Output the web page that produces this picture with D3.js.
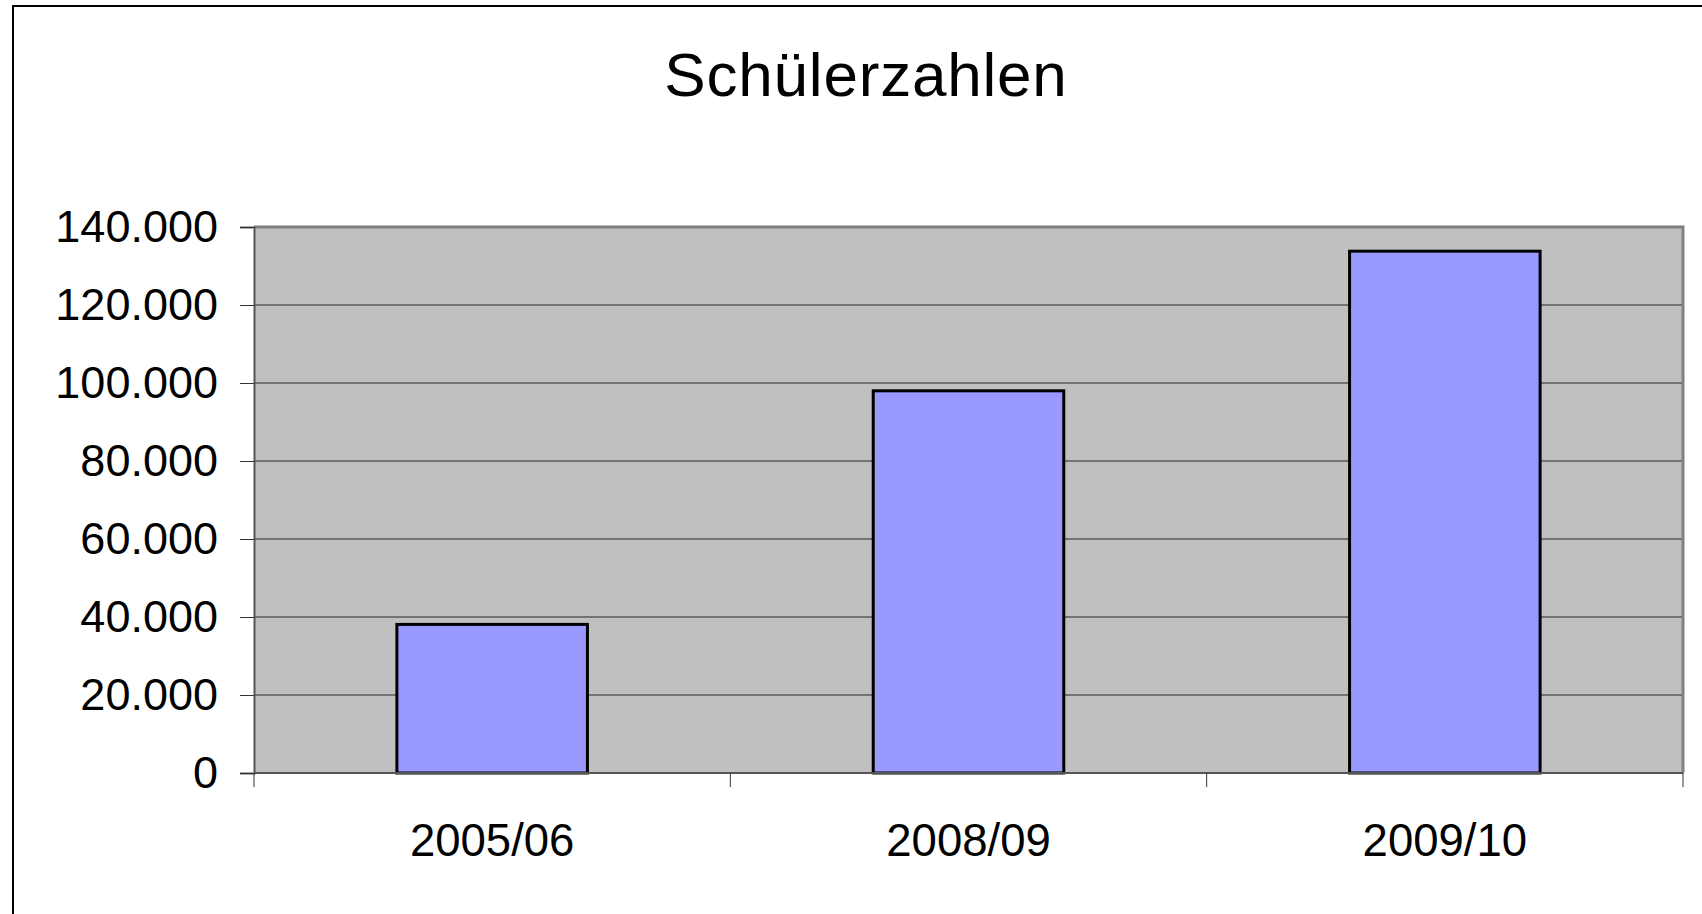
<!DOCTYPE html>
<html>
<head>
<meta charset="utf-8">
<script src="https://cdn.jsdelivr.net/npm/d3@7"></script>
<style>
  html, body { margin: 0; padding: 0; background: #fff; }
  svg { display: block; }
  text { font-family: "Liberation Sans", Arial, sans-serif; fill: #000; }
</style>
</head>
<body>
<svg id="chart" width="1702" height="914"></svg>
<script>
// ---- data ----
const title = "Schülerzahlen";
const categories = ["2005/06", "2008/09", "2009/10"];
const values = [38100, 98000, 133800];
const yTicks = [0, 20000, 40000, 60000, 80000, 100000, 120000, 140000];
const yMax = 140000;

// ---- layout ----
const W = 1702, H = 914;
const plot = { left: 254, top: 227, right: 1683, bottom: 773 };

const svg = d3.select("#chart");

const loc = d3.formatLocale({ decimal: ",", thousands: ".", grouping: [3], currency: ["", ""] });
const fmt = loc.format(",d");

// outer chart border (extends past the viewport on right/bottom)
svg.append("rect")
  .attr("x", 13).attr("y", 6)
  .attr("width", 1760).attr("height", 1000)
  .attr("fill", "#fff").attr("stroke", "#000").attr("stroke-width", 2);

// title
svg.append("text")
  .attr("x", 866).attr("y", 96)
  .attr("text-anchor", "middle")
  .attr("font-size", 62)
  .attr("letter-spacing", 0.8)
  .text(title);

const x = d3.scaleBand()
  .domain(categories)
  .range([plot.left, plot.right])
  .paddingInner(0.6)
  .paddingOuter(0.3);

const xStep = d3.scaleBand().domain(categories).range([plot.left, plot.right]).padding(0);

const y = d3.scaleLinear().domain([0, yMax]).range([plot.bottom, plot.top]);

// plot background
svg.append("rect")
  .attr("x", plot.left).attr("y", plot.top)
  .attr("width", plot.right - plot.left).attr("height", plot.bottom - plot.top)
  .attr("fill", "#c0c0c0");

// gridlines
svg.append("g").selectAll("line")
  .data(yTicks.filter(d => d > 0 && d < yMax))
  .join("line")
  .attr("x1", plot.left).attr("x2", plot.right)
  .attr("y1", d => y(d)).attr("y2", d => y(d))
  .attr("stroke", "#5a5a5a").attr("stroke-width", 1.5);

// plot border (gray)
svg.append("path")
  .attr("d", `M${plot.left},${plot.top}H${plot.right}V${plot.bottom}`)
  .attr("fill", "none").attr("stroke", "#808080").attr("stroke-width", 3);

// bars
svg.append("g").selectAll("rect")
  .data(categories.map((c, i) => ({ c, v: values[i] })))
  .join("rect")
  .attr("x", d => x(d.c))
  .attr("width", x.bandwidth())
  .attr("y", d => y(d.v))
  .attr("height", d => y(0) - y(d.v))
  .attr("fill", "#9999ff")
  .attr("stroke", "#000").attr("stroke-width", 3);

// y axis
const yAxis = d3.axisLeft(y).tickValues(yTicks).tickFormat(fmt).tickSize(14).tickPadding(22);
const gy = svg.append("g").attr("transform", `translate(${plot.left},0)`).call(yAxis);
gy.select(".domain").attr("stroke", "#555").attr("stroke-width", 2);
gy.selectAll(".tick line").attr("stroke", "#333").attr("stroke-width", 1);
gy.selectAll(".tick text")
  .attr("font-size", 45)
  .attr("font-family", "Liberation Sans, Arial, sans-serif")
  .attr("fill", "#000")
  .attr("dy", "0.32em");

// x axis
const xAxis = d3.axisBottom(xStep).tickSize(0).tickPadding(0);
const gx = svg.append("g").attr("transform", `translate(0,${plot.bottom})`).call(xAxis);
gx.select(".domain").remove();
gx.selectAll(".tick text")
  .attr("font-size", 45.5)
  .attr("font-family", "Liberation Sans, Arial, sans-serif")
  .attr("fill", "#000")
  .attr("y", 83).attr("dy", 0);
svg.append("line")
  .attr("x1", plot.left).attr("x2", plot.right)
  .attr("y1", plot.bottom).attr("y2", plot.bottom)
  .attr("stroke", "#555").attr("stroke-width", 2);
// category boundary ticks
const boundaries = categories.map(c => xStep(c)).concat([xStep(categories[categories.length - 1]) + xStep.bandwidth()]);
svg.append("g").selectAll("line")
  .data(boundaries)
  .join("line")
  .attr("x1", d => d).attr("x2", d => d)
  .attr("y1", plot.bottom).attr("y2", plot.bottom + 14)
  .attr("stroke", "#333").attr("stroke-width", 1);
</script>
</body>
</html>
